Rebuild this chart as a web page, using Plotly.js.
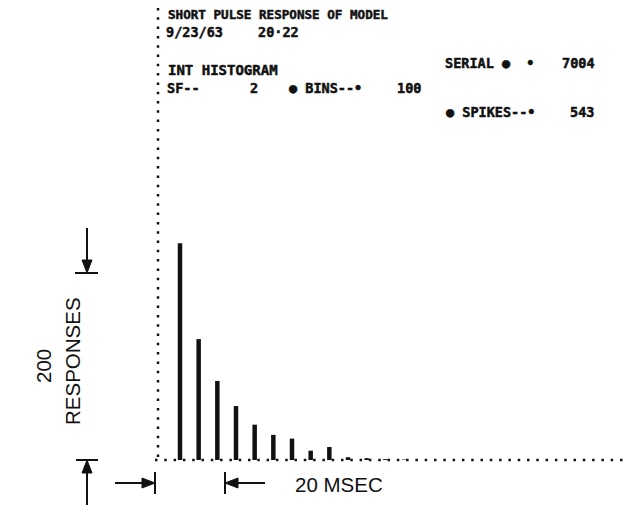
<!DOCTYPE html>
<html>
<head>
<meta charset="utf-8">
<script src="https://cdn.plot.ly/plotly-3.0.1.min.js"></script>
<style>
html, body { margin: 0; padding: 0; background: #fff; }
#chart { width: 629px; height: 522px; }
.annotation-text[style*="Mono"] { stroke: #111; stroke-width: 0.5px; }
</style>
</head>
<body>
<div id="chart"></div>
<script>
// Interval histogram: bin index and number of responses per bin
const bins = [1, 2, 3, 4, 5, 6, 7, 8, 9, 10, 11, 12, 13];
const responses = [233, 130, 85, 58, 38, 27, 23, 10, 14, 3, 2, 1, 0.5];

// Header text lines
const headerTitle = "SHORT PULSE RESPONSE OF MODEL";
const headerDate = "9/23/63";
const headerTime = "20·22";
const headerKind = "INT HISTOGRAM";
const headerSF = "SF--";
const headerSFVal = "2";
const headerBins = "● BINS--•";
const headerBinsVal = "100";
const headerSerial = "SERIAL ●  •";
const headerSerialVal = "7004";
const headerSpikes = "● SPIKES--•";
const headerSpikesVal = "543";
const yScaleLabel = ["200", "RESPONSES"];
const xScaleLabel = "20 MSEC";

// layout geometry (pixels)
const W = 629, H = 522;
const M = { l: 158, r: 0, t: 8, b: 62 };
const PW = W - M.l - M.r, PH = H - M.t - M.b;
const px = x => (x - M.l) / PW;
const py = y => (H - M.b - y) / PH;

const ink = "#111";
const mono = "DejaVu Sans Mono, monospace";
const sans = "Liberation Sans, Arial, sans-serif";

function txt(s, x, y, size, fam, extra) {
  return Object.assign({
    text: s, xref: "paper", yref: "paper", x: px(x), y: py(y),
    xanchor: "left", yanchor: "middle", showarrow: false,
    font: { family: fam || mono, size: size || 13, color: ink, weight: "bold" }
  }, extra || {});
}

const annotations = [
  txt(headerTitle, 166, 14, 12.6),
  txt(headerDate, 164, 32, 13.5),
  txt(headerTime, 256, 32, 13.5),
  txt(headerKind, 166, 70, 14),
  txt(headerSF, 165, 88, 13.5),
  txt(headerSFVal, 248, 88, 13.5),
  txt(headerBins, 287, 88, 13.5),
  txt(headerBinsVal, 395, 88, 13.5),
  txt(headerSerial, 443, 63, 13.5),
  txt(headerSerialVal, 560, 63, 13.5),
  txt(headerSpikes, 444, 112, 13.5),
  txt(headerSpikesVal, 568, 112, 13.5),
  txt(yScaleLabel[0], 43, 366, 20.5, sans, { xanchor: "center", textangle: -90, font: { family: sans, size: 20.5, color: ink } }),
  txt(yScaleLabel[1], 72, 361, 20.5, sans, { xanchor: "center", textangle: -90, font: { family: sans, size: 20.5, color: ink } }),
  txt(xScaleLabel, 293, 484, 20.5, sans, { font: { family: sans, size: 20.5, color: ink } })
];

function seg(x0, y0, x1, y1, w, dash) {
  return { type: "line", xref: "paper", yref: "paper",
    x0: px(x0), y0: py(y0), x1: px(x1), y1: py(y1),
    line: { color: ink, width: w || 2, dash: dash || "solid" } };
}
function tri(points) {
  let p = "M" + points.map(q => px(q[0]) + "," + py(q[1])).join(" L") + " Z";
  return { type: "path", xref: "paper", yref: "paper", path: p,
    fillcolor: ink, line: { color: ink, width: 1 } };
}

const shapes = [
  // dotted frame
  seg(158, 8, 158, 460, 2.5, "2.5px,6.8px"),
  seg(155, 460, 629, 460, 2.5, "2.5px,6.8px"),
  // vertical 200-response scale
  seg(87, 228, 87, 262, 2),
  tri([[82, 260], [92, 260], [87, 273]]),
  seg(75, 273, 98, 273, 2),
  seg(76, 460, 98, 460, 2),
  seg(87, 505, 87, 471, 2),
  tri([[82, 473], [92, 473], [87, 460]]),
  // horizontal 20 msec scale
  seg(115, 483, 144, 483, 2),
  tri([[142, 478], [142, 488], [155, 483]]),
  seg(155, 472, 155, 494, 2),
  seg(225, 472, 225, 494, 2),
  tri([[238, 478], [238, 488], [225, 483]]),
  seg(236, 483, 265, 483, 2)
];

const trace = {
  type: "bar", x: bins, y: responses, width: 0.24,
  marker: { color: ink, line: { width: 0 } },
  hoverinfo: "x+y"
};

const layout = {
  width: W, height: H, margin: M,
  paper_bgcolor: "#fff", plot_bgcolor: "#fff",
  showlegend: false,
  xaxis: { range: [-0.178, 25.05], visible: false, fixedrange: true },
  yaxis: { range: [0, 486], visible: false, fixedrange: true },
  annotations: annotations, shapes: shapes
};

Plotly.newPlot("chart", [trace], layout, { displayModeBar: false, staticPlot: true });
</script>
</body>
</html>
